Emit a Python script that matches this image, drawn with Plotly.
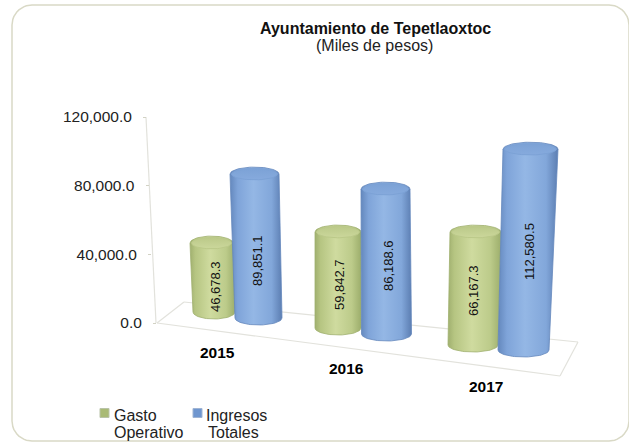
import numpy as np
import plotly.graph_objects as go

W, H = 629, 443

# --- data ---
YEARS = ["2015", "2016", "2017"]
GASTO_OPERATIVO = [46678.3, 59842.7, 66167.3]
INGRESOS_TOTALES = [89851.1, 86188.6, 112580.5]
TICK_VALUES = [0, 40000, 80000, 120000]

# --- pseudo-3D placement (pixels) ---
Y0_PX, Y120_PX = 323.0, 117.0
VAL_PER_PX = 120000.0 / (Y0_PX - Y120_PX)


def py(p):
    """pixel row -> value on the y axis"""
    return (Y0_PX - np.asarray(p, dtype=float)) * VAL_PER_PX


# per group, per series (Gasto, Ingresos)
CX_TOP = [[211.5, 254.5], [338, 385.5], [475.5, 530.5]]
CX_BOT = [[214, 258.5], [338, 386.5], [473, 523.5]]
HW_TOP = [[21.5, 24.5], [23, 24.5], [25.5, 27.5]]
HW_BOT = [[21, 23.5], [23, 25], [25, 25.5]]
BASE_PX = [[312, 318], [328, 334], [345, 350]]
DEPTH = [[0.860, 0.933], [0.934, 0.979], [0.994, 1.039]]
LABEL_PX = [[(215, 287), (257, 261)], [(339, 285), (388, 266)], [(473, 291), (529, 252)]]
YEAR_PX = [(217, 352), (346, 368), (486, 386)]
AXIS_X_PX = [156, 151, 148.5, 146]
RY = 7.0
FONT = "Liberation Sans"

GREEN_SIDE = [[0, "#a0b06f"], [0.12, "#b6c582"], [0.45, "#cfdb9f"], [0.8, "#bccb8a"], [1, "#9dae6c"]]
GREEN_TOP = [[0, "#cbd79b"], [1, "#bbc989"]]
BLUE_SIDE = [[0, "#6488bd"], [0.15, "#7fa4d9"], [0.45, "#94b7e5"], [0.8, "#82a7da"], [1, "#5c7eb2"]]
BLUE_TOP = [[0, "#86aadd"], [1, "#7ca2d6"]]

fig = go.Figure()

# floor and wall
floor_lines = [
    ([157, 560], [323, 376]),
    ([560, 578], [376, 342]),
    ([184, 578], [302, 342]),
    ([157, 184], [323, 302]),
    ([146, 156], [117, 323]),
]
for xs, ys in floor_lines:
    fig.add_trace(go.Scatter(x=xs, y=py(ys), mode="lines",
                             line=dict(color="#e2e2dc", width=1.2),
                             hoverinfo="skip", showlegend=False))


def cylinder(g, s, value, side, top):
    t = np.linspace(0, np.pi, 40)
    base = py(BASE_PX[g][s])
    top_v = base + value * DEPTH[g][s]
    ry_v = RY * VAL_PER_PX
    cb, ct = CX_BOT[g][s], CX_TOP[g][s]
    wb, wt = HW_BOT[g][s], HW_TOP[g][s]
    x = np.r_[cb + wb * np.cos(t + np.pi), ct + wt * np.cos(t)]
    x = np.r_[x, x[0]]
    y = np.r_[base - ry_v * np.sin(t), top_v + ry_v * np.sin(t)]
    y = np.r_[y, y[0]]
    fig.add_trace(go.Scatter(x=x, y=y, mode="lines", fill="toself",
                             line=dict(color=side[0][1], width=0.8),
                             fillgradient=dict(type="horizontal", colorscale=side),
                             hoverinfo="skip", showlegend=False))
    a = np.linspace(0, 2 * np.pi, 60)
    fig.add_trace(go.Scatter(x=ct + (wt - 1.5) * np.cos(a), y=top_v + (ry_v * 0.82) * np.sin(a),
                             mode="lines", fill="toself",
                             line=dict(color=top[1][1], width=1),
                             fillgradient=dict(type="vertical", colorscale=top),
                             hoverinfo="skip", showlegend=False))


annotations = []
for g, year in enumerate(YEARS):
    cylinder(g, 0, GASTO_OPERATIVO[g], GREEN_SIDE, GREEN_TOP)
    cylinder(g, 1, INGRESOS_TOTALES[g], BLUE_SIDE, BLUE_TOP)
    for s, v in enumerate((GASTO_OPERATIVO[g], INGRESOS_TOTALES[g])):
        lx, ly = LABEL_PX[g][s]
        annotations.append(dict(x=lx, y=py(ly), text=f"{v:,.1f}", textangle=-90, showarrow=False,
                                font=dict(family=FONT, size=13, color="#111111")))
    yx, yy = YEAR_PX[g]
    annotations.append(dict(x=yx, y=py(yy), text=f"<b>{year}</b>", showarrow=False,
                            font=dict(family=FONT, size=15.5, color="#000000")))

annotations.append(dict(x=375, y=py(28), text="<b>Ayuntamiento de Tepetlaoxtoc</b>", showarrow=False,
                        font=dict(family=FONT, size=16, color="#111111")))
annotations.append(dict(x=374, y=py(45), text="(Miles de pesos)", showarrow=False,
                        font=dict(family=FONT, size=16, color="#222222")))

# legend keys and their two-line texts
LEGEND = [(("Gasto", "Operativo"), "#a9ba75", 104.5, (113, 113)),
          (("Ingresos", "Totales"), "#6f96cf", 197.5, (205, 207))]
for lines, col, mx, tx in LEGEND:
    fig.add_trace(go.Scatter(x=[mx], y=py([413]), mode="markers", name=" ".join(lines),
                             marker=dict(symbol="square", size=9, color=col,
                                         line=dict(color="#b9c3a8" if col == "#a9ba75" else "#9fb4d4", width=1)),
                             hoverinfo="skip", showlegend=False))
    for text, lxp, lyp in zip(lines, tx, (415, 432)):
        annotations.append(dict(x=lxp, y=py(lyp), text=text, xanchor="left", showarrow=False, xshift=-1,
                                font=dict(family=FONT, size=16, color="#222222")))

# rounded frame
r, L, T, R, B = 20, 12, 5, 629, 441
bt = np.linspace(0, np.pi / 2, 12)
bx = np.r_[L + r - r * np.cos(bt), R - r + r * np.sin(bt), R - r + r * np.cos(bt), L + r - r * np.sin(bt), L]
by = np.r_[T + r - r * np.sin(bt), T + r - r * np.cos(bt), B - r + r * np.sin(bt), B - r + r * np.cos(bt), T + r]
fig.add_trace(go.Scatter(x=bx, y=py(by), mode="lines", line=dict(color="#d9d9c6", width=1.5),
                         hoverinfo="skip", showlegend=False))

yrange = [float(py(H)), float(py(0))]
layout_axes = {}
for i, (v, ax) in enumerate(zip(TICK_VALUES, AXIS_X_PX)):
    key = "yaxis" if i == 0 else f"yaxis{i + 1}"
    layout_axes[key] = dict(range=yrange, anchor="free", position=ax / W,
                            tickvals=[v], tickformat=",.1f", ticks="outside", ticklen=3,
                            tickcolor="#d2d2c4", ticklabelstandoff=8,
                            showgrid=False, zeroline=False, showline=False, fixedrange=True,
                            tickfont=dict(family=FONT, size=15.5, color="#222222"))
    if i > 0:
        layout_axes[key]["overlaying"] = "y"
        fig.add_trace(go.Scatter(x=[None], y=[None], yaxis=f"y{i + 1}", mode="lines",
                                 hoverinfo="skip", showlegend=False))

fig.update_layout(
    width=W, height=H, autosize=False,
    margin=dict(l=0, r=0, t=0, b=0),
    paper_bgcolor="white", plot_bgcolor="white",
    xaxis=dict(range=[0, W], visible=False, fixedrange=True),
    showlegend=False,
    annotations=annotations,
    **layout_axes,
)

fig.write_html("out.html", config=dict(displayModeBar=False),
               post_script="document.body.style.margin='0';")
